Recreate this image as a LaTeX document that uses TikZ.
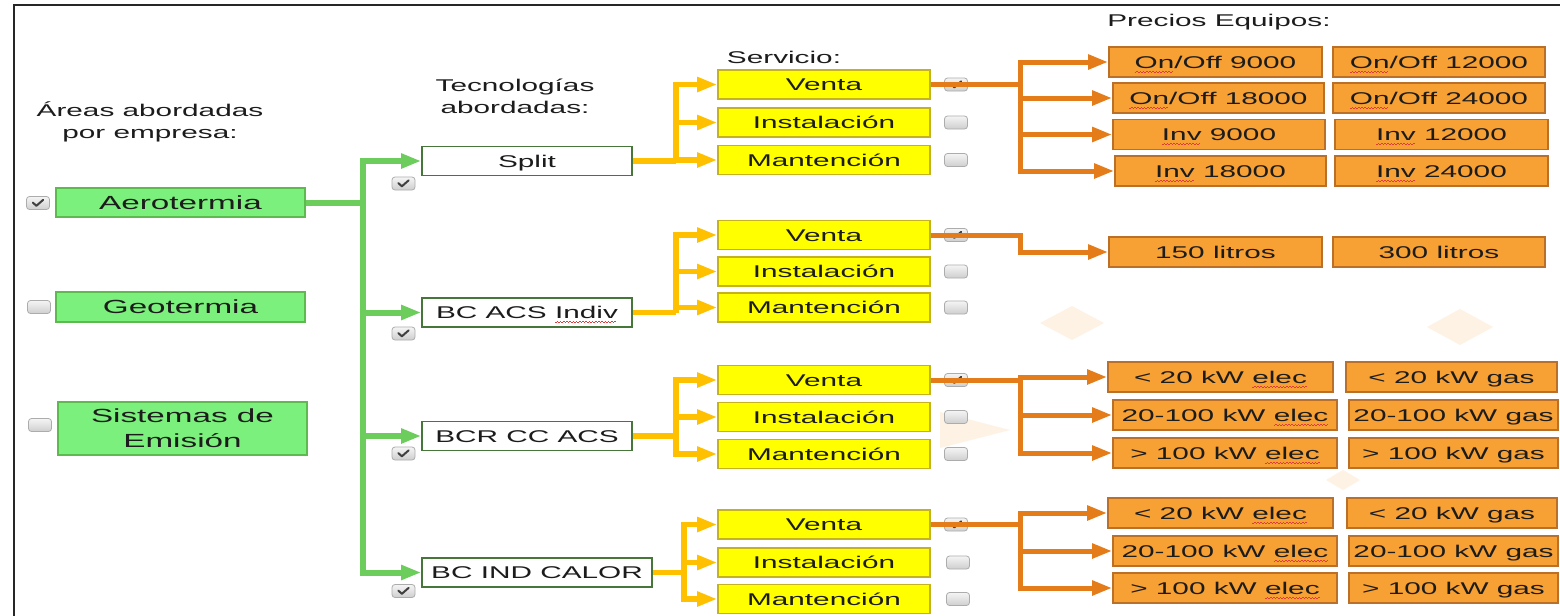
\documentclass[tikz,border=0pt]{standalone}
\usepackage{fontspec}
\setmainfont{Liberation Sans}[FakeStretch=1.75]
\usetikzlibrary{arrows.meta}
\definecolor{cTxt}{RGB}{28,28,28}
\definecolor{cGreenLine}{RGB}{108,204,92}
\definecolor{cAreaFill}{RGB}{124,240,124}
\definecolor{cAreaBorder}{RGB}{92,186,78}
\definecolor{cTechBorder}{RGB}{70,118,58}
\definecolor{cServFill}{RGB}{255,255,0}
\definecolor{cServBorder}{RGB}{196,178,30}
\definecolor{cYellowLine}{RGB}{255,192,0}
\definecolor{cOrangeLine}{RGB}{228,124,26}
\definecolor{cPriceFill}{RGB}{247,160,52}
\definecolor{cPriceBorder}{RGB}{186,112,40}
\definecolor{cSq}{RGB}{225,60,60}
\definecolor{cWm}{RGB}{254,242,228}
\newsavebox\sqbox
\newcommand\sq[1]{\sbox\sqbox{#1}\rlap{\smash{\raisebox{-2pt}{\textcolor{cSq}{\leaders\hbox to 1.6pt{\rule{0.8pt}{0.4pt}\rule[0.5pt]{0.8pt}{0.4pt}}\hskip\wd\sqbox}}}}\usebox\sqbox}
\tikzset{
  every node/.style={font=\fontsize{8.5}{11}\selectfont, text=cTxt},
  onel/.style={text height=6.3pt, text depth=0pt},
  areabox/.style={draw=cAreaBorder, fill=cAreaFill, line width=1pt, minimum width=124.5pt, inner sep=0pt, align=center, font=\fontsize{9.5}{12.5}\selectfont},
  techbox/.style={onel, draw=cTechBorder, fill=white, line width=0.8pt, minimum width=105pt, minimum height=14.5pt, inner sep=0pt},
  servbox/.style={onel, draw=cServBorder, fill=cServFill, line width=0.8pt, minimum width=106pt, minimum height=14.5pt, inner sep=0pt},
  pricebox/.style={onel, draw=cPriceBorder, fill=cPriceFill, line width=0.8pt, minimum height=15pt, inner sep=0pt},
  cbox/.style={draw=gray!65, top color=gray!8, bottom color=gray!38, rounded corners=1.5pt, minimum width=11.5pt, minimum height=6.5pt, inner sep=0pt, line width=0.4pt},
  chk/.pic={\node[cbox] (-b) {}; \draw[line width=1pt, black!75, line cap=round, line join=round] (-2.6pt,0.2pt) -- (-0.8pt,-1.4pt) -- (2.6pt,1.6pt);},
  gline/.style={draw=cGreenLine, line width=3pt},
  garrow/.style={gline, -{Triangle[length=10pt,width=7pt]}},
  yline/.style={draw=cYellowLine, line width=2.8pt},
  yarrow/.style={yline, -{Triangle[length=10pt,width=7pt]}},
  oline/.style={draw=cOrangeLine, line width=2.5pt},
  oarrow/.style={oline, -{Triangle[length=10pt,width=7pt]}},
  hdr/.style={align=center},
  wm/.style={fill=cWm}
}
\begin{document}
\begin{tikzpicture}[x=0.5pt,y=-0.5pt]
\useasboundingbox (0,0) rectangle (1560,616);
\fill[white] (0,0) rectangle (1560,616);
% faint watermark shapes
\fill[wm] (1072,323) +(-32,0) -- +(0,-17) -- +(32,0) -- +(0,17) -- cycle;
\fill[wm] (1460,327) +(-33,0) -- +(0,-18) -- +(33,0) -- +(0,18) -- cycle;
\fill[wm] (1343,480) +(-17,0) -- +(0,-10) -- +(17,0) -- +(0,10) -- cycle;
\fill[wm] (975,430) +(-35,-18) -- +(35,0) -- +(-35,18) -- cycle;
% frame
\draw[black!85, line width=1.2pt] (14,616) -- (14,5) -- (1560,5);

% headers
\node[hdr] (hAreas) at (150,122) {Áreas abordadas\\por empresa:};
\node[hdr] (hTec) at (515,96) {Tecnologías\\abordadas:};
\node (hServ) at (784,57) {Servicio:};
\node (hPrec) at (1219,22) {Precios Equipos:};

% areas
\node[areabox, minimum height=14.5pt, text height=6.9pt, text depth=0pt] (aero) at (180.5,202.5) {Aerotermia};
\node[areabox, minimum height=15pt, text height=6.9pt, text depth=0pt] (geo) at (180.5,307) {Geotermia};
\node[areabox, minimum height=26.5pt] (sis) at (182.5,428.5) {Sistemas de\\Emisión};
\pic (cAero) at (38,203) {chk};
\node[cbox] (cGeo) at (39,307) {};
\node[cbox] (cSis) at (40,425) {};

% technologies
\node[techbox] (split) at (527,161) {Split};
\node[techbox] (acs) at (527,312.5) {BC ACS \sq{Indiv}};
\node[techbox] (bcr) at (527,436) {BCR CC ACS};
\node[techbox, minimum width=115pt] (ind) at (537,572.5) {BC IND CALOR};
\pic (cSplit) at (403.5,183.5) {chk};
\pic (cAcs) at (403.5,333.5) {chk};
\pic (cBcr) at (403.5,453.5) {chk};
\pic (cInd) at (403.5,591) {chk};

% services
\node[servbox] (v1) at (824,84.5) {Venta};
\node[servbox] (i1) at (824,122.5) {Instalación};
\node[servbox] (m1) at (824,160) {Mantención};
\node[servbox] (v2) at (824,235) {Venta};
\node[servbox] (i2) at (824,271.5) {Instalación};
\node[servbox] (m2) at (824,307.5) {Mantención};
\node[servbox] (v3) at (824,380) {Venta};
\node[servbox] (i3) at (824,417) {Instalación};
\node[servbox] (m3) at (824,454) {Mantención};
\node[servbox] (v4) at (824,524.5) {Venta};
\node[servbox] (i4) at (824,562.5) {Instalación};
\node[servbox] (m4) at (824,599) {Mantención};
\pic (cV1) at (956,84.5) {chk};
\node[cbox] (cI1) at (956,122.5) {};
\node[cbox] (cM1) at (956,160) {};
\pic (cV2) at (956,235) {chk};
\node[cbox] (cI2) at (956,271.5) {};
\node[cbox] (cM2) at (956,307.5) {};
\pic (cV3) at (956,380) {chk};
\node[cbox] (cI3) at (956,417) {};
\node[cbox] (cM3) at (956,454) {};
\pic (cV4) at (956,524.5) {chk};
\node[cbox] (cI4) at (958,562.5) {};
\node[cbox] (cM4) at (958,599) {};

% prices group 1
\node[pricebox, minimum width=106.5pt] (p1a) at (1215.5,62) {\sq{On}/Off 9000};
\node[pricebox, minimum width=106pt] (p1b) at (1439,62) {\sq{On}/Off 12000};
\node[pricebox, minimum width=105.5pt] (p2a) at (1218.5,98) {\sq{On}/Off 18000};
\node[pricebox, minimum width=106pt] (p2b) at (1439,98) {\sq{On}/Off 24000};
\node[pricebox, minimum width=106pt] (p3a) at (1219,134.5) {\sq{Inv} 9000};
\node[pricebox, minimum width=106.5pt] (p3b) at (1441.5,134.5) {\sq{Inv} 12000};
\node[pricebox, minimum width=105.5pt] (p4a) at (1220.5,171) {\sq{Inv} 18000};
\node[pricebox, minimum width=106.5pt] (p4b) at (1441.5,171) {\sq{Inv} 24000};
% group 2
\node[pricebox, minimum width=106.5pt] (l150) at (1215.5,252) {150 litros};
\node[pricebox, minimum width=106pt] (l300) at (1439,252) {300 litros};
% group 3
\node[pricebox, minimum width=112.5pt] (q1a) at (1220.5,377) {< 20 kW \sq{elec}};
\node[pricebox, minimum width=105.5pt] (q1b) at (1451.5,377) {< 20 kW gas};
\node[pricebox, minimum width=112pt] (q2a) at (1225,415) {20-100 kW \sq{elec}};
\node[pricebox, minimum width=104.5pt] (q2b) at (1453.5,415) {20-100 kW gas};
\node[pricebox, minimum width=112pt] (q3a) at (1225,453) {> 100 kW \sq{elec}};
\node[pricebox, minimum width=104.5pt] (q3b) at (1453.5,453) {> 100 kW gas};
% group 4
\node[pricebox, minimum width=112.5pt] (r1a) at (1220.5,513) {< 20 kW \sq{elec}};
\node[pricebox, minimum width=105pt] (r1b) at (1452,513) {< 20 kW gas};
\node[pricebox, minimum width=112pt] (r2a) at (1225,551) {20-100 kW \sq{elec}};
\node[pricebox, minimum width=104.5pt] (r2b) at (1453.5,551) {20-100 kW gas};
\node[pricebox, minimum width=112pt] (r3a) at (1225,588) {> 100 kW \sq{elec}};
\node[pricebox, minimum width=104.5pt] (r3b) at (1453.5,588) {> 100 kW gas};

% green connectors
\path (aero.east) ++(57,0) coordinate (gT);
\draw[gline] (aero.east) -- (gT);
\draw[garrow] (gT) |- (split.west);
\draw[garrow] (gT) |- (acs.west);
\draw[garrow] (gT) |- (bcr.west);
\draw[garrow] (gT) |- (ind.west);

% yellow connectors
\path (split.east) ++(43,0) coordinate (y1);
\path (acs.east) ++(43,0) coordinate (y2);
\path (bcr.east) ++(43,0) coordinate (y3);
\path (ind.east) ++(31,0) coordinate (y4);
\draw[yline] (split.east) -- (y1);
\draw[yline] (acs.east) -- (y2);
\draw[yline] (bcr.east) -- (y3);
\draw[yline] (ind.east) -- (y4);
\foreach \t/\s in {y1/v1,y1/i1,y1/m1,y2/v2,y2/i2,y2/m2,y3/v3,y3/i3,y3/m3,y4/v4,y4/i4,y4/m4}
  \draw[yarrow] (\t) |- (\s.west);

% orange connectors
\path (v1.east) ++(90,0) coordinate (o1);
\path (v2.east) ++(90,0) coordinate (o2);
\path (v3.east) ++(90,0) coordinate (o3);
\path (v4.east) ++(90,0) coordinate (o4);
\draw[oline] (v1.east) -- (o1);
\draw[oline] (v3.east) -- (o3);
\draw[oline] (v4.east) -- (o4);
\foreach \t/\s in {o1/p1a,o1/p2a,o1/p3a,o1/p4a,o3/q1a,o3/q2a,o3/q3a,o4/r1a,o4/r2a,o4/r3a}
  \draw[oarrow] (\t) |- (\s.west);
\draw[oarrow] (v2.east) -- (o2) |- (l150.west);
\end{tikzpicture}
\end{document}
